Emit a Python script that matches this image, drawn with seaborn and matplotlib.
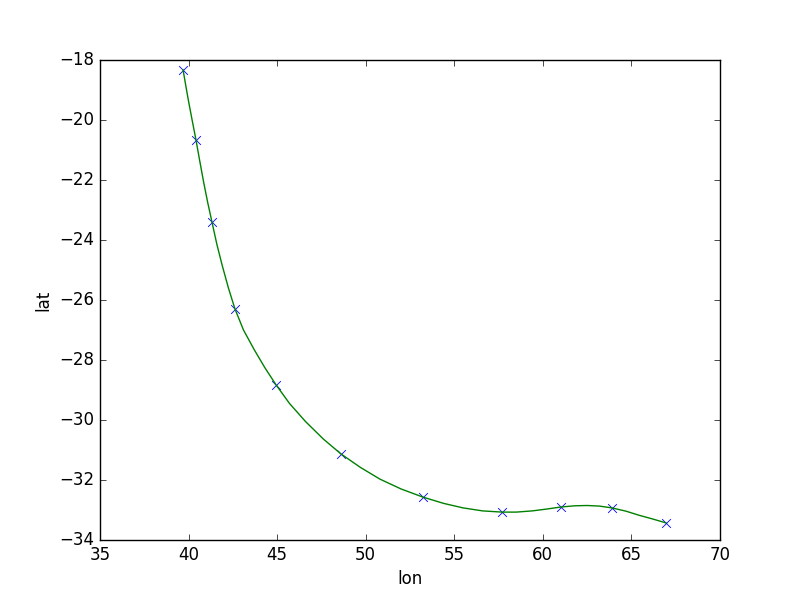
import matplotlib
matplotlib.use("Agg")
import matplotlib.pyplot as plt
import seaborn as sns

# sample positions (markers)
lon = [39.69, 40.42, 41.32, 42.62, 44.94, 48.60, 53.23, 57.69, 61.02, 63.90, 66.95]
lat = [-18.33, -20.67, -23.40, -26.30, -28.83, -31.13, -32.57, -33.07, -32.90, -32.93, -33.43]

# smooth track
track_lon = [39.69, 39.85, 40.00, 40.20, 40.42, 40.62, 40.85, 41.08, 41.32, 41.60,
             41.90, 42.25, 42.62, 43.10, 43.70, 44.30, 44.94, 45.70, 46.60, 47.60,
             48.60, 49.70, 50.80, 52.00, 53.23, 54.40, 55.50, 56.60, 57.69, 58.50,
             59.40, 60.20, 61.02, 61.80, 62.50, 63.20, 63.90, 64.70, 65.40, 66.20, 66.95]
track_lat = [-18.33, -18.88, -19.38, -20.00, -20.67, -21.33, -22.07, -22.75, -23.40, -24.15,
             -24.85, -25.60, -26.30, -27.00, -27.65, -28.25, -28.83, -29.45, -30.05, -30.63,
             -31.13, -31.58, -31.97, -32.30, -32.57, -32.78, -32.93, -33.03, -33.07, -33.07,
             -33.03, -32.97, -32.90, -32.86, -32.85, -32.87, -32.93, -33.04, -33.17, -33.30, -33.43]

plt.style.use("classic")
fig, ax = plt.subplots(figsize=(8, 6))
fig.patch.set_facecolor("white")

sns.lineplot(x=track_lon, y=track_lat, sort=False, color="g", linewidth=1.0, ax=ax)
sns.scatterplot(x=lon, y=lat, marker="x", color="b", s=40, linewidth=0.6, ax=ax)

ax.set_xlim(35, 70)
ax.set_ylim(-34, -18)
ax.set_xlabel("lon")
ax.set_ylabel("lat")

plt.savefig("out.png", dpi=100, facecolor="white")
